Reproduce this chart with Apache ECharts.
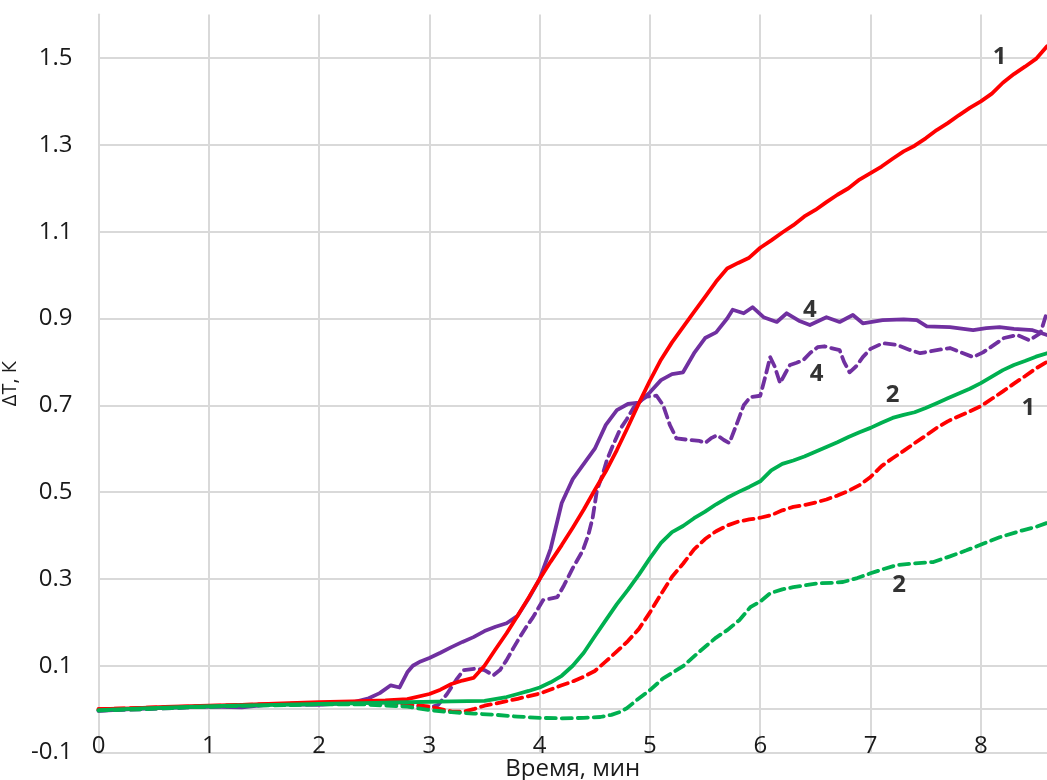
<!DOCTYPE html>
<html>
<head>
<meta charset="utf-8">
<script src="https://cdn.jsdelivr.net/npm/echarts@6/dist/echarts.min.js"></script>
<style>
  html, body { margin: 0; padding: 0; background: #fff; }
  #chart { width: 1047px; height: 780px; }
</style>
</head>
<body>
<div id="chart"></div>
<script>
// ΔT(t) curves: solid and dashed traces for samples 1, 2 and 4; [time, ΔT]
const redSolid = [[0,0.0],[0.3,0.002],[0.6,0.005],[1.0,0.008],[1.3,0.01],[1.6,0.013],[2.0,0.016],[2.3,0.018],[2.6,0.02],[2.8,0.023],[3.0,0.035],[3.1,0.045],[3.2,0.058],[3.3,0.066],[3.4,0.072],[3.5,0.10],[3.6,0.138],[3.7,0.175],[3.8,0.215],[3.9,0.257],[4.0,0.30],[4.1,0.34],[4.2,0.378],[4.3,0.418],[4.4,0.46],[4.5,0.505],[4.6,0.548],[4.7,0.597],[4.8,0.65],[4.9,0.705],[5.0,0.757],[5.1,0.805],[5.2,0.845],[5.3,0.88],[5.4,0.915],[5.5,0.95],[5.6,0.985],[5.7,1.015],[5.8,1.028],[5.9,1.04],[6.0,1.063],[6.1,1.08],[6.2,1.098],[6.3,1.115],[6.4,1.135],[6.5,1.15],[6.6,1.168],[6.7,1.185],[6.8,1.2],[6.9,1.22],[7.0,1.235],[7.1,1.25],[7.2,1.268],[7.3,1.285],[7.4,1.298],[7.5,1.315],[7.6,1.334],[7.7,1.35],[7.8,1.368],[7.9,1.385],[8.0,1.40],[8.1,1.418],[8.2,1.443],[8.3,1.463],[8.4,1.48],[8.5,1.498],[8.6,1.527]];

const redDashed = [[0,0.0],[0.4,0.003],[0.8,0.006],[1.2,0.009],[1.6,0.012],[2.0,0.014],[2.4,0.014],[2.8,0.012],[3.0,0.006],[3.2,-0.005],[3.3,-0.006],[3.4,0.0],[3.5,0.008],[3.6,0.013],[3.8,0.024],[4.0,0.036],[4.2,0.055],[4.3,0.064],[4.4,0.075],[4.5,0.088],[4.6,0.11],[4.7,0.133],[4.8,0.157],[4.9,0.185],[5.0,0.223],[5.1,0.265],[5.2,0.305],[5.3,0.335],[5.4,0.368],[5.5,0.392],[5.6,0.41],[5.7,0.423],[5.8,0.432],[5.9,0.437],[6.0,0.441],[6.1,0.447],[6.2,0.458],[6.3,0.466],[6.4,0.47],[6.5,0.476],[6.6,0.483],[6.7,0.492],[6.8,0.503],[6.9,0.516],[7.0,0.535],[7.1,0.56],[7.2,0.578],[7.3,0.595],[7.4,0.613],[7.5,0.63],[7.6,0.648],[7.7,0.663],[7.8,0.675],[7.9,0.686],[8.0,0.698],[8.1,0.715],[8.2,0.732],[8.3,0.75],[8.4,0.767],[8.5,0.785],[8.6,0.80]];

const greenSolid = [[0,-0.002],[0.4,0.002],[0.8,0.005],[1.2,0.008],[1.6,0.01],[2.0,0.012],[2.4,0.014],[2.8,0.016],[3.2,0.018],[3.5,0.019],[3.7,0.028],[3.8,0.035],[3.9,0.042],[4.0,0.05],[4.1,0.062],[4.2,0.077],[4.3,0.10],[4.4,0.13],[4.5,0.168],[4.6,0.205],[4.7,0.242],[4.8,0.275],[4.9,0.31],[5.0,0.348],[5.1,0.383],[5.2,0.408],[5.3,0.422],[5.4,0.44],[5.5,0.455],[5.6,0.472],[5.7,0.487],[5.8,0.5],[5.9,0.512],[6.0,0.525],[6.1,0.55],[6.2,0.565],[6.3,0.573],[6.4,0.582],[6.5,0.593],[6.6,0.604],[6.7,0.615],[6.8,0.627],[6.9,0.638],[7.0,0.648],[7.1,0.66],[7.2,0.671],[7.3,0.678],[7.4,0.684],[7.5,0.694],[7.6,0.705],[7.7,0.716],[7.8,0.727],[7.9,0.738],[8.0,0.751],[8.1,0.766],[8.2,0.781],[8.3,0.793],[8.4,0.802],[8.5,0.812],[8.6,0.82]];

const greenDashed = [[0,-0.003],[0.4,0.0],[0.8,0.004],[1.2,0.007],[1.6,0.009],[2.0,0.011],[2.4,0.011],[2.8,0.006],[3.0,-0.002],[3.2,-0.007],[3.4,-0.01],[3.6,-0.013],[3.8,-0.017],[4.0,-0.02],[4.2,-0.021],[4.4,-0.02],[4.55,-0.018],[4.65,-0.013],[4.72,-0.007],[4.79,0.002],[4.88,0.021],[5.0,0.044],[5.12,0.071],[5.3,0.099],[5.45,0.133],[5.6,0.165],[5.7,0.182],[5.81,0.205],[5.91,0.235],[6.0,0.248],[6.09,0.267],[6.2,0.276],[6.3,0.281],[6.4,0.285],[6.52,0.29],[6.65,0.291],[6.75,0.293],[6.88,0.302],[7.0,0.313],[7.12,0.323],[7.24,0.332],[7.4,0.336],[7.57,0.339],[7.72,0.352],[7.87,0.366],[8.02,0.381],[8.17,0.396],[8.38,0.412],[8.5,0.42],[8.6,0.429]];

const purpleSolid = [[0,-0.004],[0.3,0.0],[0.6,0.003],[1.0,0.006],[1.3,0.004],[1.6,0.012],[2.0,0.01],[2.3,0.015],[2.45,0.025],[2.55,0.037],[2.65,0.055],[2.73,0.05],[2.8,0.085],[2.85,0.10],[2.92,0.11],[3.0,0.118],[3.1,0.13],[3.2,0.143],[3.3,0.155],[3.4,0.166],[3.5,0.18],[3.6,0.19],[3.7,0.198],[3.8,0.215],[3.9,0.255],[4.0,0.30],[4.1,0.37],[4.2,0.475],[4.3,0.53],[4.4,0.565],[4.5,0.60],[4.6,0.655],[4.7,0.689],[4.8,0.703],[4.9,0.706],[5.0,0.73],[5.1,0.758],[5.2,0.772],[5.3,0.776],[5.4,0.82],[5.5,0.855],[5.6,0.868],[5.7,0.90],[5.75,0.92],[5.85,0.912],[5.93,0.926],[6.03,0.903],[6.15,0.892],[6.24,0.912],[6.35,0.895],[6.45,0.885],[6.6,0.903],[6.72,0.892],[6.84,0.908],[6.93,0.889],[7.11,0.896],[7.3,0.898],[7.42,0.896],[7.51,0.882],[7.72,0.88],[7.93,0.873],[8.05,0.878],[8.17,0.88],[8.3,0.876],[8.47,0.873],[8.6,0.862]];

const purpleDashed = [[0,-0.003],[0.4,0.0],[0.8,0.004],[1.2,0.007],[1.6,0.01],[2.0,0.012],[2.4,0.012],[2.8,0.01],[3.0,0.003],[3.08,0.01],[3.16,0.035],[3.25,0.07],[3.31,0.09],[3.43,0.094],[3.5,0.09],[3.58,0.078],[3.64,0.09],[3.70,0.113],[3.76,0.14],[3.82,0.166],[3.88,0.19],[3.94,0.212],[4.03,0.251],[4.16,0.258],[4.22,0.285],[4.3,0.325],[4.39,0.365],[4.44,0.40],[4.48,0.44],[4.52,0.505],[4.57,0.54],[4.61,0.574],[4.66,0.605],[4.73,0.645],[4.79,0.668],[4.85,0.694],[4.92,0.712],[4.97,0.72],[5.06,0.722],[5.12,0.70],[5.18,0.655],[5.24,0.624],[5.36,0.62],[5.45,0.618],[5.5,0.613],[5.56,0.625],[5.61,0.631],[5.67,0.62],[5.72,0.613],[5.79,0.659],[5.85,0.70],[5.91,0.719],[6.0,0.722],[6.05,0.77],[6.09,0.811],[6.13,0.79],[6.18,0.751],[6.23,0.775],[6.27,0.793],[6.33,0.798],[6.39,0.804],[6.45,0.82],[6.52,0.834],[6.58,0.836],[6.64,0.832],[6.72,0.827],[6.76,0.80],[6.81,0.776],[6.87,0.79],[6.93,0.811],[7.0,0.83],[7.11,0.843],[7.24,0.839],[7.35,0.828],[7.45,0.82],[7.6,0.827],[7.72,0.832],[7.82,0.822],[7.93,0.811],[8.02,0.822],[8.09,0.834],[8.21,0.855],[8.33,0.862],[8.44,0.85],[8.54,0.866],[8.6,0.915]];

// Curve numbers placed next to the traces: [time, ΔT, text]
const curveLabels = [[8.17,1.502,'1'],[6.45,0.919,'4'],[6.51,0.772,'4'],[7.20,0.723,'2'],[8.43,0.694,'1'],[7.26,0.286,'2']];

// Axis ticks: labelled values, plus the zero line among the horizontal gridlines
const xTicks = [0,1,2,3,4,5,6,7,8];
const yTicks = [-0.1,0.1,0.3,0.5,0.7,0.9,1.1,1.3,1.5];
const yGridLines = [-0.1,0,0.1,0.3,0.5,0.7,0.9,1.1,1.3,1.5];

const RED = '#ff0000', GREEN = '#00b050', PURPLE = '#7030a0';
const FONT = '"Open Sans", "DejaVu Sans", sans-serif';
const GRID = '#d9d9d9';

function trace(data, color, dashed) {
  return {
    type: 'line',
    data: data,
    showSymbol: false,
    symbol: 'none',
    smooth: false,
    lineStyle: {
      color: color,
      width: 3.8,
      type: dashed ? [10, 6] : 'solid',
      cap: 'round',
      join: 'round'
    },
    silent: true,
    animation: false
  };
}

const chart = echarts.init(document.getElementById('chart'), null, { renderer: 'canvas' });

chart.setOption({
  backgroundColor: '#ffffff',
  animation: false,
  grid: { left: 98.5, right: 0, top: 14.6, bottom: 27.4, containLabel: false, outerBoundsMode: 'none' },
  xAxis: {
    type: 'value',
    min: 0,
    max: 8.6,
    interval: 1,
    name: 'Время, мин',
    nameLocation: 'middle',
    nameGap: 5,
    nameMoveOverlap: false,
    nameTextStyle: { fontFamily: FONT, fontSize: 24, color: '#1a1a1a', verticalAlign: 'top' },
    axisLine: { show: true, onZero: false, lineStyle: { color: GRID, width: 2 } },
    axisTick: { show: false, customValues: xTicks },
    axisLabel: {
      fontFamily: FONT, fontSize: 24, color: '#1a1a1a', margin: -18,
      customValues: xTicks
    },
    splitLine: { show: true, lineStyle: { color: GRID, width: 2 } }
  },
  yAxis: {
    type: 'value',
    min: -0.1,
    max: 1.6,
    name: 'ΔT, К',
    nameLocation: 'middle',
    nameGap: 66,
    nameRotate: 90,
    nameTextStyle: { fontFamily: FONT, fontSize: 20, color: '#1a1a1a' },
    axisLine: { show: true, lineStyle: { color: GRID, width: 2 } },
    axisTick: { show: false, customValues: yGridLines },
    axisLabel: {
      fontFamily: FONT, fontSize: 24, color: '#1a1a1a', margin: 26,
      customValues: yTicks,
      formatter: function (v) { return v.toFixed(1); }
    },
    splitLine: { show: true, lineStyle: { color: GRID, width: 2 } }
  },
  series: [
    trace(purpleDashed, PURPLE, true),
    trace(purpleSolid, PURPLE, false),
    trace(redDashed, RED, true),
    trace(greenDashed, GREEN, true),
    trace(redSolid, RED, false),
    trace(greenSolid, GREEN, false),
    {
      type: 'scatter',
      data: curveLabels,
      symbolSize: 0,
      silent: true,
      animation: false,
      label: {
        show: true,
        position: 'inside',
        formatter: function (p) { return p.value[2]; },
        fontFamily: FONT,
        fontWeight: 'bold',
        fontSize: 24,
        color: '#000000',
        textBorderWidth: 0
      }
    }
  ]
});
</script>
</body>
</html>
